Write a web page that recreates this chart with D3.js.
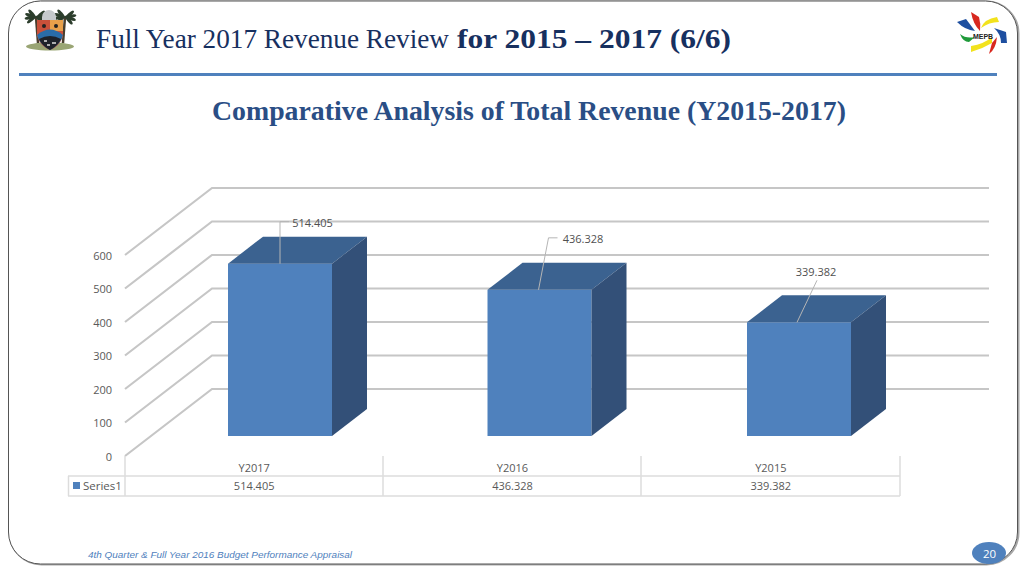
<!DOCTYPE html>
<html><head><meta charset="utf-8">
<script src="https://cdn.jsdelivr.net/npm/d3@7/dist/d3.min.js"></script>
<style>html,body{margin:0;padding:0;background:#fff;overflow:hidden}svg{display:block}</style>
</head><body><svg id="c" width="1024" height="576"></svg>
<script>
const categories = ["Y2017","Y2016","Y2015"];
const values = [514.405,436.328,339.382];
const valueLabels = ["514.405","436.328","339.382"];
const yTicks = [0,100,200,300,400,500,600];
const seriesName = "Series1";
const titleA = "Full Year 2017 Revenue Review";
const titleB = "for 2015 – 2017 (6/6)";
const subtitle = "Comparative Analysis of Total Revenue (Y2015-2017)";
const footer = "4th Quarter & Full Year 2016 Budget Performance Appraisal";
const pageNumber = "20";

(function(){
const svg = d3.select("#c");
const sans = "'Open Sans','Noto Sans',sans-serif";
const serif = "'Liberation Serif',serif";

// slide frame
svg.append("rect").attr("x",9.5).attr("y",1.5).attr("width",1009).attr("height",563).attr("rx",32)
  .attr("fill","none").attr("stroke","#a8a8a8").attr("stroke-width",2);
svg.append("rect").attr("x",8.5).attr("y",1).attr("width",1009).attr("height",563).attr("rx",32)
  .attr("fill","#fff").attr("stroke","#555").attr("stroke-width",1);

// header
svg.append("line").attr("x1",19).attr("x2",997).attr("y1",74.5).attr("y2",74.5).attr("stroke","#4f81bd").attr("stroke-width",3);
svg.append("text").attr("x",96).attr("y",47.5).attr("font-family",serif).attr("font-size",26.5).attr("fill","#17305f")
  .attr("textLength",353).attr("lengthAdjust","spacingAndGlyphs").text(titleA);
svg.append("text").attr("x",457).attr("y",47.5).attr("font-family",serif).attr("font-size",26.5).attr("font-weight","bold").attr("fill","#17305f")
  .attr("textLength",274).attr("lengthAdjust","spacingAndGlyphs").text(titleB);
svg.append("text").attr("x",529).attr("y",120).attr("text-anchor","middle").attr("font-family",serif)
  .attr("font-size",27.8).attr("font-weight","bold").attr("fill","#2a4e85").text(subtitle);

// left crest (decorative)
const crest = svg.append("g");
crest.append("ellipse").attr("cx",50).attr("cy",46.5).attr("rx",24).attr("ry",4).attr("fill","#9aa574");
[[36,17],[65,17]].forEach(([x,y])=>{
  crest.append("line").attr("x1",x).attr("x2",x+(x<50?2:-2)).attr("y1",y).attr("y2",y+26).attr("stroke","#4a3e2e").attr("stroke-width",2.5);
  [-40,-10,20,50,140,170,200,230].forEach(a=>{
    crest.append("ellipse").attr("cx",x+6*Math.cos(a*Math.PI/180)).attr("cy",y+4*Math.sin(a*Math.PI/180))
      .attr("rx",5.5).attr("ry",1.7).attr("transform",`rotate(${a} ${x+6*Math.cos(a*Math.PI/180)} ${y+4*Math.sin(a*Math.PI/180)})`).attr("fill","#2c3d2c");
  });
});
crest.append("path").attr("d","M42 17a7 7 0 0 1 14 0v4h-14z").attr("fill","#c5c9cc");
crest.append("path").attr("d","M37 20H63V36Q60 46 50 50Q40 46 37 36Z").attr("fill","#c9503a");
crest.append("rect").attr("x",50).attr("y",20).attr("width",13).attr("height",11).attr("fill","#e8a04a");
crest.append("circle").attr("cx",44).attr("cy",26).attr("r",2).attr("fill","#222");
crest.append("circle").attr("cx",56).attr("cy",26).attr("r",2).attr("fill","#222");
crest.append("path").attr("d","M37 35Q50 24 63 35Q61 44 50 50Q39 44 37 35Z").attr("fill","#2a6ca8");
crest.append("path").attr("d","M39 39Q50 33 61 39Q58 46 50 50Q42 46 39 39Z").attr("fill","#1e222a");
crest.append("path").attr("d","M44 41h3M52 43h4M47 45h3").attr("stroke","#ddd").attr("stroke-width",1.4);

// right logo (decorative)
const logo = svg.append("g");
[["M971 12L979 17Q981 24 980 31Q973 24 971 12Z","#d8281f"],
 ["M981 28Q984 19 997 17L999 22Q989 22 981 28Z","#f2e21d"],
 ["M957 22L966 19L975 31Q965 30 957 22Z","#1e4fa0"],
 ["M994 28L1006 32L1007 43H1001Q1001 34 994 28Z","#1e4fa0"],
 ["M960 34Q966 39 975 37L969 42Q963 42 960 34Z","#1f9a3a"],
 ["M971 52Q982 49 992 43V37Q984 44 971 46Z","#f2e21d"],
 ["M989 54Q996 49 997 37L992 43Z","#d8281f"]
].forEach(([d,f])=>logo.append("path").attr("d",d).attr("fill",f));
logo.append("text").attr("x",983).attr("y",38.5).attr("text-anchor","middle").attr("font-family","'Liberation Sans',sans-serif")
  .attr("font-size",7).attr("font-weight","bold").attr("fill","#222").text("MEPB");

// 3D chart: front plane scale, back wall scale, and a depth vector
const yFront = d3.scaleLinear().domain([0,600]).range([456,255]);
const yBack = d3.scaleLinear().domain([0,600]).range([389,188]);
const xBand = d3.scaleBand().domain(categories).range([125,900]);
const xBar = d3.scalePoint().domain(categories).range([280,799]);
const xWallL = 212, xWallR = 989, xFront = 125;
const barW = 104, baseShift = 20, depthX = 35, depthY = 27;

const grid = svg.append("g").attr("fill","none").attr("stroke","#c6c6c6").attr("stroke-width",2.2);
yTicks.forEach(v=>{
  grid.append("path").attr("d",`M${xFront} ${yFront(v)}L${xWallL} ${yBack(v)}H${xWallR}`);
});
svg.append("g").selectAll("text").data(yTicks).join("text")
  .attr("x",112).attr("y",d=>yFront(d)+4.5).attr("text-anchor","end")
  .attr("font-family",sans).attr("font-size",11).attr("fill","#595959").text(d=>d);

const bars = svg.append("g").selectAll("g").data(categories.map((c,i)=>({c,v:values[i],l:valueLabels[i]}))).join("g");
const bx = d => xBar(d.c)-barW/2;
const base = yFront(0)-baseShift;
const barTop = d => base-(yFront(0)-yFront(d.v));
bars.append("rect").attr("x",bx).attr("y",barTop).attr("width",barW).attr("height",d=>base-barTop(d)).attr("fill","#4f81bd");
bars.append("path").attr("fill","#3b6290").attr("d",d=>{
  const x=bx(d),y=barTop(d);
  return `M${x} ${y}L${x+depthX} ${y-depthY}H${x+barW+depthX}L${x+barW} ${y}Z`;
});
bars.append("path").attr("fill","#335078").attr("d",d=>{
  const x=bx(d)+barW,y=barTop(d);
  return `M${x} ${y}L${x+depthX} ${y-depthY}V${base-depthY}L${x} ${base}Z`;
});

// data labels with leaders
const leadTopDx=[0,10,20], leadTopY=[42,52,42], elbow=[9,9,0];
bars.append("path").attr("fill","none").attr("stroke","#b5b5b5").attr("stroke-width",1).attr("d",(d,i)=>{
  const x=bx(d)+barW/2+[0,-1,-2][i], y=barTop(d);
  const tx=x+leadTopDx[i], ty=y-leadTopY[i];
  return `M${x} ${y}L${tx} ${ty}h${elbow[i]}`;
});
const labelX = [312.5,583,816], labelY=[226.5,242.5,275.5];
bars.append("text").attr("x",(d,i)=>labelX[i]).attr("y",(d,i)=>labelY[i]).attr("text-anchor","middle")
  .attr("font-family",sans).attr("font-size",11).attr("fill","#505050").text(d=>d.l);

// data table
const tbl = svg.append("g").attr("stroke","#dcdcdc").attr("stroke-width",1.5);
[125,383,641,900].forEach(x=>tbl.append("line").attr("x1",x).attr("x2",x).attr("y1",456).attr("y2",496));
tbl.append("line").attr("x1",68.5).attr("x2",68.5).attr("y1",476).attr("y2",496);
[476,496].forEach(y=>tbl.append("line").attr("x1",68).attr("x2",900).attr("y1",y).attr("y2",y));
svg.append("rect").attr("x",73).attr("y",482).attr("width",7).attr("height",7).attr("fill","#4f81bd");
svg.append("text").attr("x",83).attr("y",490).attr("font-family",sans).attr("font-size",11.5).attr("fill","#595959").text(seriesName);
categories.forEach((c,i)=>{
  svg.append("text").attr("x",xBand(c)+xBand.bandwidth()/2).attr("y",472).attr("text-anchor","middle")
    .attr("font-family",sans).attr("font-size",11).attr("fill","#595959").text(c);
  svg.append("text").attr("x",xBand(c)+xBand.bandwidth()/2).attr("y",490).attr("text-anchor","middle")
    .attr("font-family",sans).attr("font-size",11).attr("fill","#595959").text(valueLabels[i]);
});

// footer
svg.append("text").attr("x",88).attr("y",558).attr("font-family","'Liberation Sans',sans-serif").attr("font-style","italic")
  .attr("font-size",9.95).attr("fill","#4f81bd").text(footer);
svg.append("ellipse").attr("cx",989).attr("cy",553).attr("rx",17).attr("ry",11).attr("fill","#4f81bd");
svg.append("text").attr("x",989.5).attr("y",557.5).attr("text-anchor","middle").attr("font-family",sans).attr("font-size",11.5).attr("fill","#fff").text(pageNumber);
})();
</script></body></html>
